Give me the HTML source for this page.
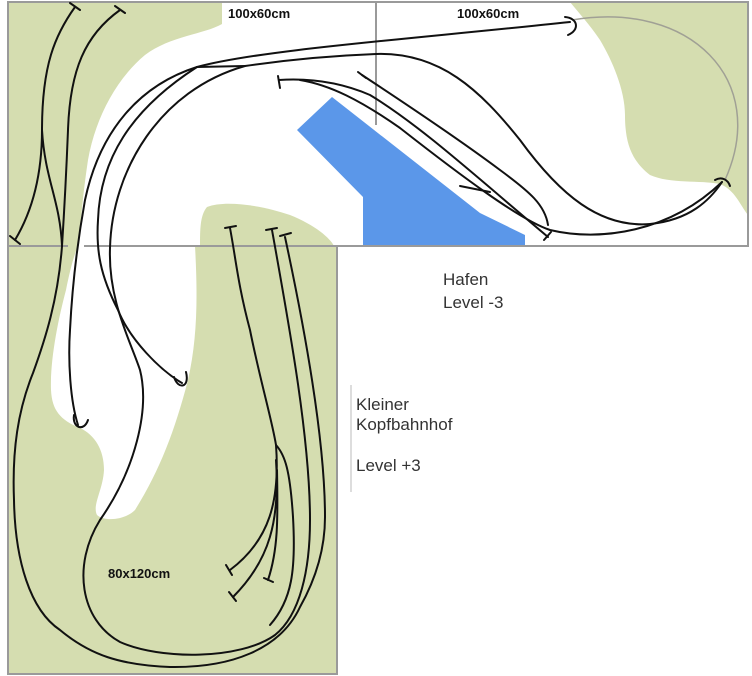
<!DOCTYPE html>
<html><head><meta charset="utf-8"><style>
html,body{margin:0;padding:0;background:#fff;}
svg{display:block;}
text{font-family:"Liberation Sans","DejaVu Sans",sans-serif;}
</style></head><body>
<svg width="752" height="676" viewBox="0 0 752 676" xmlns="http://www.w3.org/2000/svg">
<rect width="752" height="676" fill="#fff"/>
<!-- green areas -->
<rect x="8" y="246" width="329" height="428" fill="#d5ddb0"/>
<path d="M8,2 L222,2 L222,24 C205,34 170,36 145,55 C115,80 95,120 88,160 C82,200 80,230 78,260 L8,260 Z" fill="#d5ddb0"/>
<path d="M207,207 C225,200 260,205 290,215 C315,225 330,238 334,246 L200,246 C200,230 200,215 207,207 Z" fill="#d5ddb0"/>
<path d="M570,2 L748,2 L748,215 C740,205 735,190 720,184 C700,180 670,184 650,175 C630,160 625,140 625,115 C625,90 612,60 600,40 C590,25 578,12 570,2 Z" fill="#d5ddb0"/>
<!-- white region in bottom frame -->
<path d="M78,246 L195,246 C198,300 197,340 188,380 C175,430 160,470 135,510 C125,520 105,522 97,515 C92,505 103,490 104,470 C104,450 95,435 80,428 C60,420 52,410 51,390 C50,360 58,320 66,290 C70,270 74,255 78,246 Z" fill="#fff"/>
<!-- blue -->
<polygon points="297,130 332,97 480,213 525,235 525,246 363,246 363,197" fill="#5b97e9"/>
<!-- frames -->
<g fill="none" stroke="#9a9a9a" stroke-width="2">
<path d="M8,2 L748,2 L748,246 L337,246 L337,674 L8,674 Z"/>
<path d="M8,246 L68,246 M84,246 L337,246"/>
<path d="M376,2 L376,125"/>
</g>
<path d="M351,385 L351,492" stroke="#ddd" stroke-width="2"/>
<path d="M572,20 C690,0 770,80 725,180" fill="none" stroke="#a0a095" stroke-width="1.5"/>
<!-- tracks -->
<g fill="none" stroke="#111" stroke-width="2" stroke-linecap="round">
<!-- top-left strips -->
<path d="M75,7 C55,35 42,65 42,130 C42,180 30,215 15,240"/>
<path d="M42,130 C45,180 60,200 62,246"/>
<path d="M120,10 C85,35 70,70 68,130 C66,180 64,215 62,246"/>
<path d="M70,3 L80,10 M115,6 L125,13 M10,236 L20,244"/>
<!-- outer loop -->
<path d="M62,246 C58,300 45,340 33,373 C18,410 12,450 14,500 C15,560 30,610 60,630 C90,655 120,665 170,667 C230,668 280,650 300,607 C318,575 325,545 325,517 C325,440 305,330 285,237"/>
<path d="M280,236 L291,233"/>
<!-- top long lines -->
<path d="M78,425 C70,400 68,360 70,330 C72,290 76,250 85,200 C100,130 140,85 197,67 C260,50 400,40 570,22"/>
<path d="M565,17 C578,18 580,30 568,35"/>
<path d="M74,415 C72,428 84,432 88,420"/>
<path d="M182,383 C160,370 130,340 118,310 C100,275 96,250 98,220 C100,160 130,110 197,67"/>
<path d="M174,377 C178,390 190,388 186,372"/>
<path d="M197,67 L245,66"/>
<path d="M110,248 C112,170 160,90 245,66 C300,58 350,55 376,54 C440,52 480,90 520,140 C560,195 600,228 650,224 C690,220 710,200 722,182"/>
<path d="M715,180 C722,176 728,180 730,186"/>
<!-- S-curve inner loop -->
<path d="M110,248 C108,300 130,340 140,370 C150,410 135,470 100,520 C72,565 80,620 120,642 C160,660 240,660 275,635 C300,615 310,570 310,520 C310,440 290,330 272,230"/>
<path d="M266,230 L277,228"/>
<!-- right bundle -->
<path d="M230,228 C236,260 238,285 250,330 C260,380 272,420 276,445 C285,455 290,470 293,517 C296,570 292,600 270,625"/>
<path d="M225,228 L236,226"/>
<path d="M276,445 C280,500 270,540 230,570"/>
<path d="M276,460 C280,520 270,560 233,597"/>
<path d="M277,470 C278,520 278,550 268,580"/>
<path d="M226,565 L232,575 M229,592 L236,601 M264,578 L273,582"/>
<!-- harbour tracks -->
<path d="M279,80 C310,78 340,82 370,95 C420,125 480,180 548,237"/>
<path d="M278,76 L280,88"/>
<path d="M300,80 C330,85 360,100 400,128 C460,175 520,220 550,230 C600,242 670,232 722,182"/>
<path d="M362,75 C400,100 460,140 500,170 C530,192 545,205 548,225"/>
<path d="M358,72 L366,78"/>
<path d="M460,186 L490,192"/>
<path d="M544,240 L551,232"/>
</g>
<!-- labels -->
<g font-weight="bold" font-size="13" fill="#111">
<text x="228" y="18">100x60cm</text>
<text x="457" y="18">100x60cm</text>
<text x="108" y="578">80x120cm</text>
</g>
<g font-size="17" fill="#333">
<text x="443" y="285">Hafen</text>
<text x="443" y="308">Level -3</text>
<text x="356" y="410">Kleiner</text>
<text x="356" y="430">Kopfbahnhof</text>
<text x="356" y="471">Level +3</text>
</g>
</svg>
</body></html>
